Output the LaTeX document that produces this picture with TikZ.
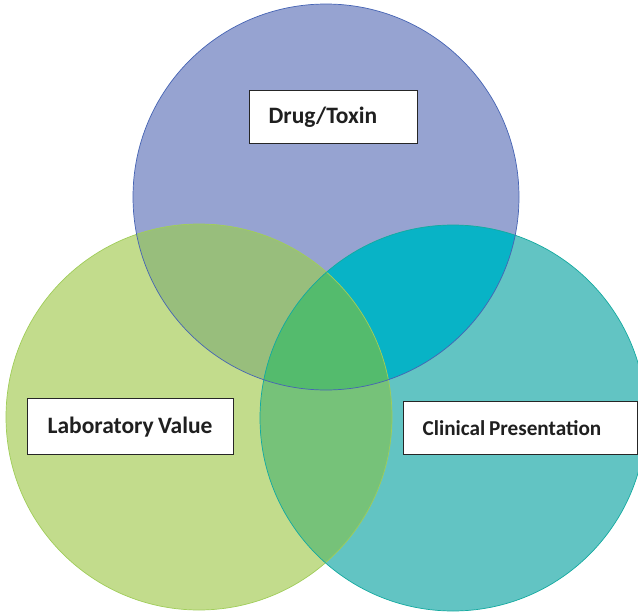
\documentclass[tikz,border=0pt]{standalone}
\usepackage{fontspec}
\setmainfont{Carlito}
\begin{document}
\begin{tikzpicture}[x=1pt,y=-1pt,
  labelbox/.style={draw=black!85, line width=1.3pt, fill=white, rectangle,
    anchor=north west, inner ysep=0pt, align=left, font=\bfseries, text=black!88},
  rim/.style={line width=0.7pt}]
\definecolor{cTop}{RGB}{150,163,209}
\definecolor{cLeft}{RGB}{194,220,140}
\definecolor{cRight}{RGB}{98,196,195}
\definecolor{cTL}{RGB}{152,190,124}
\definecolor{cTR}{RGB}{8,179,198}
\definecolor{cLR}{RGB}{118,194,121}
\definecolor{cAll}{RGB}{84,187,109}
\definecolor{rTop}{RGB}{70,100,180}
\definecolor{rLeft}{RGB}{160,205,90}
\definecolor{rRight}{RGB}{20,170,160}
\useasboundingbox (0,0) rectangle (638,613);
\clip (0,0) rectangle (638,613);

% the three sets
\def\topc{(326,197) circle[radius=193]}
\def\leftc{(199,417) circle[radius=193]}
\def\rightc{(453,418) circle[radius=193]}

\fill[cTop] \topc;
\fill[cLeft] \leftc;
\fill[cRight] \rightc;

% pairwise overlaps
\begin{scope}\clip \topc; \fill[cTL] \leftc; \end{scope}
\begin{scope}\clip \topc; \fill[cTR] \rightc; \end{scope}
\begin{scope}\clip \leftc; \fill[cLR] \rightc; \end{scope}
% triple overlap
\begin{scope}\clip \topc; \clip \leftc; \fill[cAll] \rightc; \end{scope}

% outlines
\draw[rim, rLeft] \leftc;
\draw[rim, rRight] \rightc;
\draw[rim, rTop] \topc;

% labels
\node[labelbox, inner xsep=19pt, text width=130pt, minimum height=53pt,
  font=\bfseries\fontsize{23.5}{26}\selectfont] (drug) at (249,90) {Drug/Toxin};
\node[labelbox, inner xsep=20pt, text width=166pt, minimum height=56pt,
  font=\bfseries\fontsize{23.5}{26}\selectfont] (lab) at (27,398) {\raisebox{2pt}{Laboratory\hspace{0.18em}Value}};
\node[labelbox, inner xsep=19pt, text width=196pt, minimum height=53pt,
  font=\bfseries\fontsize{21.2}{24}\selectfont] (clin) at (403,401) {\raisebox{1pt}{Clinical\hspace{0.18em}Presentation}};
\end{tikzpicture}
\end{document}
